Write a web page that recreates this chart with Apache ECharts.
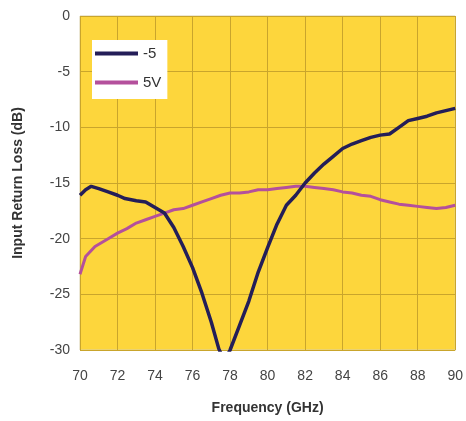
<!DOCTYPE html>
<html><head><meta charset="utf-8">
<script src="https://cdn.jsdelivr.net/npm/echarts@6/dist/echarts.min.js"></script>
<style>html,body{margin:0;padding:0;background:#fff}#c{width:466px;height:421px}</style>
</head><body><div id="c"></div>
<script>
const xTicks = [70,72,74,76,78,80,82,84,86,88,90];
const yTicks = [0,-5,-10,-15,-20,-25,-30];
const freqNeg = [70.0,70.3,70.6,71.0,71.5,72.0,72.4,73.0,73.5,74.0,74.5,75.0,75.5,76.0,76.5,77.0,77.4,77.7,78.0,78.5,79.0,79.5,80.0,80.5,81.0,81.5,82.0,82.5,83.0,83.5,84.0,84.5,85.0,85.5,86.0,86.5,87.0,87.5,88.0,88.5,89.0,89.5,90.0];
const lossNeg = [-16.1,-15.6,-15.3,-15.5,-15.8,-16.1,-16.4,-16.6,-16.7,-17.2,-17.7,-19.0,-20.7,-22.6,-24.9,-27.5,-29.9,-31.0,-30.0,-27.8,-25.6,-23.0,-20.8,-18.7,-17.0,-16.1,-15.0,-14.1,-13.3,-12.6,-11.9,-11.5,-11.2,-10.9,-10.7,-10.6,-10.0,-9.4,-9.2,-9.0,-8.7,-8.5,-8.3];
const freqPos = [70.0,70.3,70.8,71.5,72.0,72.5,73.0,73.5,74.0,74.5,75.0,75.5,76.0,76.5,77.0,77.5,78.0,78.5,79.0,79.5,80.0,80.5,81.0,81.5,82.0,82.5,83.0,83.5,84.0,84.5,85.0,85.5,86.0,86.5,87.0,87.5,88.0,88.5,89.0,89.5,90.0];
const lossPos = [-23.2,-21.6,-20.7,-20.0,-19.5,-19.1,-18.6,-18.3,-18.0,-17.7,-17.4,-17.3,-17.0,-16.7,-16.4,-16.1,-15.9,-15.9,-15.8,-15.6,-15.6,-15.5,-15.4,-15.3,-15.3,-15.4,-15.5,-15.6,-15.8,-15.9,-16.1,-16.2,-16.5,-16.7,-16.9,-17.0,-17.1,-17.2,-17.3,-17.2,-17.0];
const seriesNames = ['-5','5V'];

const chart = echarts.init(document.getElementById('c'), null, {renderer:'canvas'});
const font = 'Arial, "Liberation Sans", sans-serif';
chart.setOption({
  animation:false,
  backgroundColor:'#fff',
  grid:{left:80,top:16,right:10,bottom:71,show:true,backgroundColor:'#FDD63C',borderColor:'#d8cfa8',borderWidth:1},
  legend:{
    left:92,top:40,orient:'vertical',itemWidth:43,itemHeight:4,itemGap:14,itemTextGap:3,
    backgroundColor:'#fff',padding:[6,6,9,3],
    textStyle:{fontSize:15,color:'#333',fontFamily:font},
    data:seriesNames.map(n=>({name:n,icon:'rect'}))
  },
  xAxis:{
    type:'value',min:xTicks[0],max:xTicks[xTicks.length-1],interval:2,
    name:'Frequency (GHz)',nameLocation:'middle',nameGap:51,
    nameTextStyle:{fontSize:14,fontWeight:'bold',color:'#333',fontFamily:font},
    axisLine:{show:false},axisTick:{show:false},
    axisLabel:{margin:19,fontSize:14,color:'#444',fontFamily:font},
    splitLine:{show:true,lineStyle:{color:'#C9A52C',width:1}}
  },
  yAxis:{
    type:'value',min:yTicks[yTicks.length-1],max:yTicks[0],interval:5,
    name:'Input Return Loss (dB)',nameLocation:'middle',nameGap:55,nameRotate:90,
    nameTextStyle:{fontSize:14,fontWeight:'bold',color:'#333',fontFamily:font},
    axisLine:{show:false},axisTick:{show:false},
    axisLabel:{margin:10,fontSize:14,color:'#444',fontFamily:font},
    splitLine:{show:true,lineStyle:{color:'#C9A52C',width:1}}
  },
  series:[
    {name:seriesNames[0],type:'line',showSymbol:false,clip:true,
     data:freqNeg.map((f,i)=>[f,lossNeg[i]]),
     lineStyle:{color:'#241E58',width:3.5},itemStyle:{color:'#241E58'},z:3},
    {name:seriesNames[1],type:'line',showSymbol:false,clip:true,
     data:freqPos.map((f,i)=>[f,lossPos[i]]),
     lineStyle:{color:'#B4509C',width:3},itemStyle:{color:'#B4509C'},z:2}
  ]
});
</script></body></html>
